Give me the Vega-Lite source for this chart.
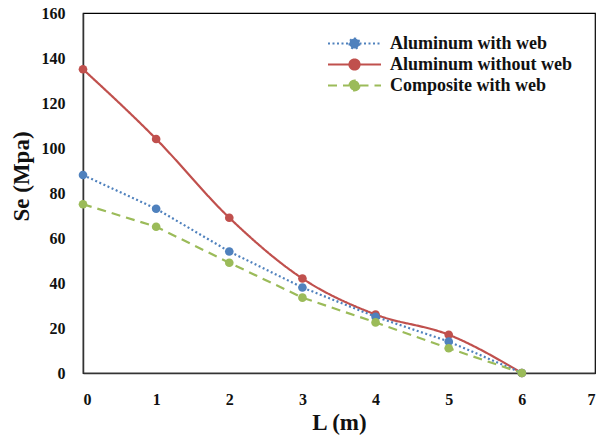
{
  "$schema": "https://vega.github.io/schema/vega-lite/v6.json",
  "autosize": {"type": "none"},
  "width": 512,
  "height": 360,
  "padding": {"left": 83, "top": 13, "right": 8, "bottom": 63},
  "background": "white",
  "config": {
    "font": "Liberation Serif",
    "view": {"stroke": "#000", "strokeWidth": 1.2},
    "axis": {
      "labelFont": "Liberation Serif", "labelFontWeight": "bold", "labelFontSize": 16, "labelColor": "#111",
      "titleFont": "Liberation Serif", "titleFontWeight": "bold", "titleFontSize": 23, "titleColor": "#111",
      "grid": false, "ticks": false, "domainColor": "#333", "domainWidth": 1.5
    }
  },
  "data": {"values": [
    {"L": 0, "Se": 88, "series": "Aluminum with web"},
    {"L": 1, "Se": 73, "series": "Aluminum with web"},
    {"L": 2, "Se": 54, "series": "Aluminum with web"},
    {"L": 3, "Se": 38, "series": "Aluminum with web"},
    {"L": 4, "Se": 25, "series": "Aluminum with web"},
    {"L": 5, "Se": 14, "series": "Aluminum with web"},
    {"L": 6, "Se": 0, "series": "Aluminum with web"},
    {"L": 0, "Se": 135, "series": "Aluminum without web"},
    {"L": 1, "Se": 104, "series": "Aluminum without web"},
    {"L": 2, "Se": 69, "series": "Aluminum without web"},
    {"L": 3, "Se": 42, "series": "Aluminum without web"},
    {"L": 4, "Se": 26, "series": "Aluminum without web"},
    {"L": 5, "Se": 17, "series": "Aluminum without web"},
    {"L": 6, "Se": 0, "series": "Aluminum without web"},
    {"L": 0, "Se": 75, "series": "Composite with web"},
    {"L": 1, "Se": 65, "series": "Composite with web"},
    {"L": 2, "Se": 49, "series": "Composite with web"},
    {"L": 3, "Se": 33.5, "series": "Composite with web"},
    {"L": 4, "Se": 22.5, "series": "Composite with web"},
    {"L": 5, "Se": 11, "series": "Composite with web"},
    {"L": 6, "Se": 0, "series": "Composite with web"}
  ]},
  "encoding": {
    "x": {"field": "L", "type": "quantitative", "scale": {"domain": [0, 7], "nice": false},
      "axis": {"title": "L (m)", "values": [0,1,2,3,4,5,6,7], "labelPadding": 18, "titlePadding": 4}},
    "y": {"field": "Se", "type": "quantitative", "scale": {"domain": [0, 160], "nice": false},
      "axis": {"title": "Se (Mpa)", "values": [0,20,40,60,80,100,120,140,160], "labelPadding": 18, "titlePadding": 8, "titleY": 163}},
    "color": {"field": "series", "type": "nominal",
      "scale": {"domain": ["Aluminum with web", "Aluminum without web", "Composite with web"], "range": ["#4F81BD", "#C0504D", "#9BBB59"]},
      "legend": {
        "title": null, "orient": "none", "legendX": 260, "legendY": 19,
        "symbolType": "M-2.65,0H-0.5M0.5,0H2.65M0.5,0A0.5,0.5 0 1,1 -0.5,0A0.5,0.5 0 1,1 0.5,0Z",
        "symbolSize": 400, "symbolStrokeWidth": 2.2, "rowPadding": -1.5, "labelLimit": 400,
        "labelFont": "Liberation Serif", "labelFontWeight": "bold", "labelFontSize": 18, "labelColor": "#111", "labelOffset": 24,
        "encode": {"symbols": {"update": {"fill": {"scale": "color", "field": "value"}}}}
      }},
    "strokeDash": {"field": "series", "type": "nominal",
      "scale": {"domain": ["Aluminum with web", "Aluminum without web", "Composite with web"], "range": [[2, 2.5], [1, 0], [9, 6]]},
      "legend": null}
  },
  "layer": [
    {"transform": [{"filter": "datum.series === 'Aluminum without web'"}],
     "mark": {"type": "line", "interpolate": "monotone", "strokeWidth": 2.2, "point": {"filled": true, "size": 75}}},
    {"transform": [{"filter": "datum.series !== 'Aluminum without web'"}],
     "mark": {"type": "line", "strokeWidth": 2.2, "point": {"filled": true, "size": 75}}}
  ]
}
